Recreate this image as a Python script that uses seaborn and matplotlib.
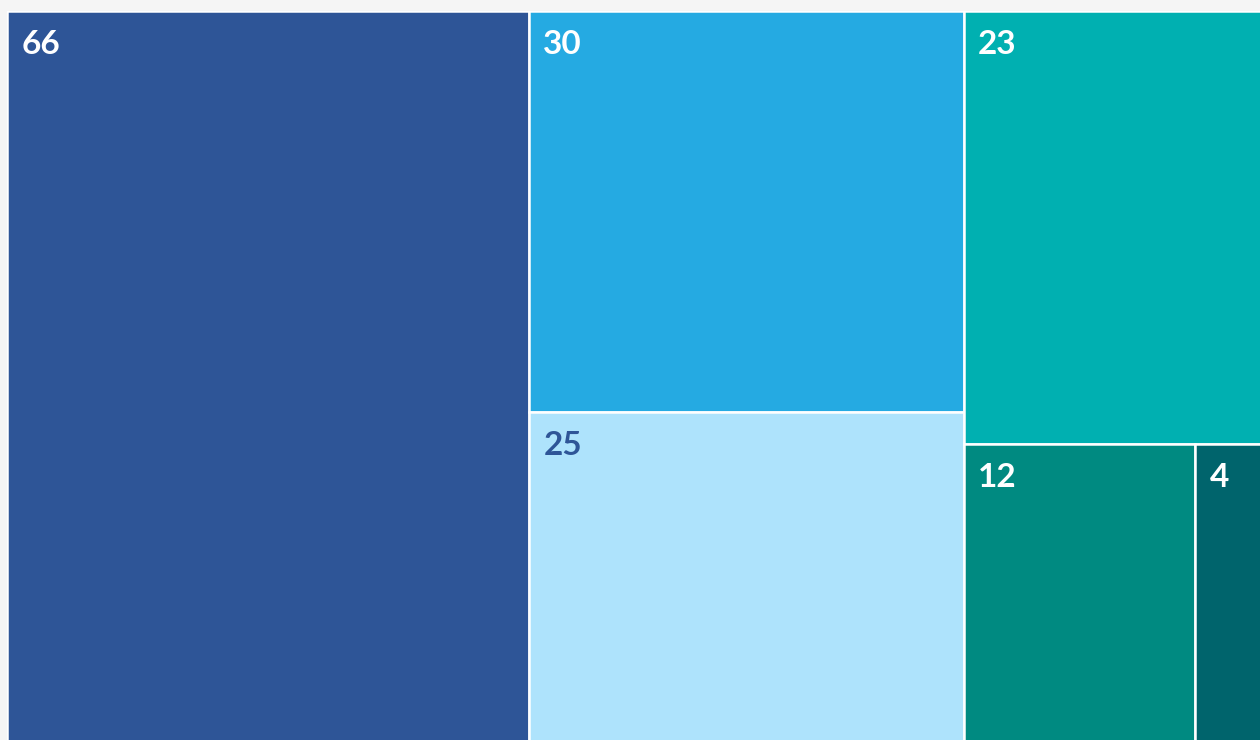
import matplotlib
matplotlib.use("Agg")
import matplotlib.pyplot as plt
from matplotlib.patches import Rectangle
import seaborn as sns

# tile values, labels and colours (layout order)
values = [66, 30, 25, 23, 12, 4]
labels = ["66", "30", "25", "23", "12", "4"]
colors = ["#2E5597", "#25AAE2", "#AEE3FC", "#00B0B1", "#008A81", "#00646C"]
label_colors = ["white", "white", "#2E5597", "white", "white", "white"]
# nesting of tiles: columns -> stacked tiles -> side-by-side row
groups = [[0], [1, 2], [3, [4, 5]]]


def weight(item):
    if isinstance(item, list):
        return sum(weight(i) for i in item)
    return values[item]


def layout(x, y, w, h, items, vertical):
    total = sum(weight(i) for i in items)
    pos = 0.0
    for it in items:
        frac = weight(it) / total
        if vertical:
            sub = (x, y + pos * h, w, frac * h)
        else:
            sub = (x + pos * w, y, frac * w, h)
        pos += frac
        if isinstance(it, list):
            yield from layout(*sub, it, not vertical)
        else:
            yield it, sub


sns.set_theme(style="white")
plt.rcParams["font.family"] = ["Lato", "DejaVu Sans"]

fig = plt.figure(figsize=(12.6, 7.4), dpi=100, facecolor="#F5F5F5")
# treemap area runs a little past the right and bottom edges of the picture
ax = fig.add_axes([7 / 1260, -6 / 740, 1265 / 1260, 735 / 740])
ax.set_xlim(0, 1)
ax.set_ylim(1, 0)
ax.axis("off")

for idx, (x, y, w, h) in layout(0, 0, 1, 1, groups, vertical=False):
    ax.add_patch(Rectangle((x, y), w, h, facecolor=colors[idx],
                           edgecolor="white", linewidth=1.8))
    ax.annotate(labels[idx], (x, y), xytext=(10.5, -13.5),
                textcoords="offset points", ha="left", va="top",
                fontsize=24, fontweight="bold", color=label_colors[idx])

fig.savefig("out.png", dpi=100, facecolor=fig.get_facecolor())
